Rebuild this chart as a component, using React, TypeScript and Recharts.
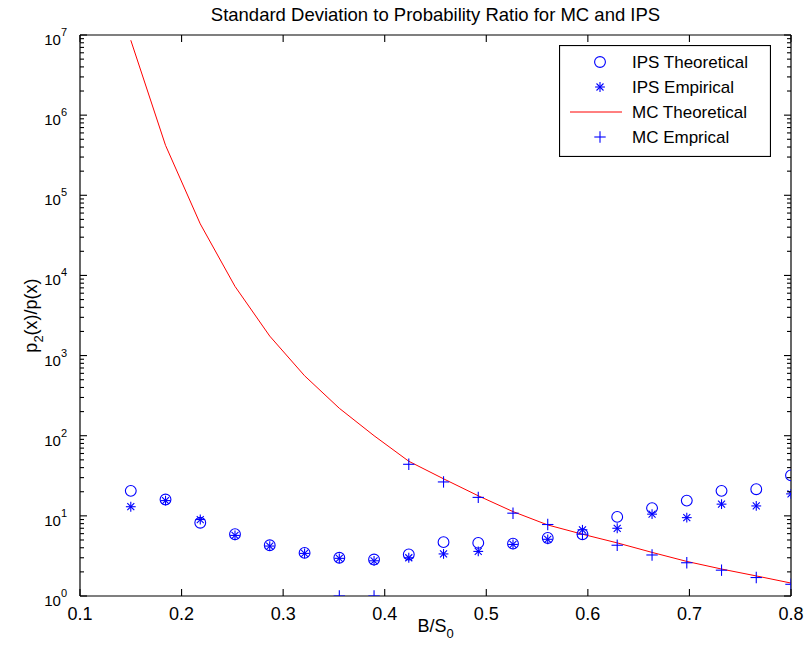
import React from 'react';
import { ComposedChart, Line, Scatter, XAxis, YAxis, Legend } from 'recharts';

const FONT = '"Liberation Sans", Arial, Helvetica, sans-serif';
const BLUE = '#0000ff';
const RED = '#ff0000';

// B/S0 values where the estimates were taken
const ratios = [0.15, 0.1842, 0.2184, 0.2526, 0.2868, 0.3211, 0.3553, 0.3895, 0.4237, 0.4579,
  0.4921, 0.5263, 0.5605, 0.5947, 0.6289, 0.6632, 0.6974, 0.7316, 0.7658, 0.8];

const ipsTheoretical = [20.5, 16, 8.2, 5.9, 4.3, 3.45, 3.0, 2.85, 3.3, 4.7,
  4.6, 4.5, 5.3, 5.9, 9.7, 12.5, 15.5, 20.5, 21.5, 32];
const ipsEmpirical = [13, 15.5, 9, 5.7, 4.2, 3.4, 2.95, 2.75, 3.0, 3.35,
  3.6, 4.4, 5.1, 6.7, 7, 10.5, 9.5, 14, 13.3, 18.8];
const mcTheoretical = [8.6e6, 4.2e5, 4.4e4, 7300, 1750, 560, 220, 100, 48, 29,
  17.8, 11.3, 7.7, 5.9, 4.6, 3.5, 2.7, 2.17, 1.78, 1.45];
// no MC estimate for the first six ratios
const mcEmpirical = [null, null, null, null, null, null, 1, 1, 44, 26.5,
  17, 10.8, 7.8, 5.9, 4.3, 3.25, 2.6, 2.1, 1.7, 1.4];

const xTicks = [0.1, 0.2, 0.3, 0.4, 0.5, 0.6, 0.7, 0.8];
const decades = [1, 10, 100, 1e3, 1e4, 1e5, 1e6, 1e7];
const minorSteps = [2, 3, 4, 5, 6, 7, 8, 9];
const yTicks = [
  ...decades,
  ...decades.slice(0, -1).flatMap((d) => minorSteps.map((m) => d * m)),
].sort((a, b) => a - b);

const legendItems = [
  { label: 'IPS Theoretical', kind: 'circle' },
  { label: 'IPS Empirical', kind: 'star' },
  { label: 'MC Theoretical', kind: 'line' },
  { label: 'MC Emprical', kind: 'plus' },
];

const toPoints = (values: (number | null)[]) =>
  ratios.map((x, i) => ({ x, y: values[i] })).filter((p) => p.y != null);

const isDecade = (v: number) => decades.includes(v);

const Marker = ({ kind, cx, cy }: { kind: string; cx: number; cy: number }) => {
  if (kind === 'circle') {
    return <circle cx={cx} cy={cy} r={5.4} fill="none" stroke={BLUE} strokeWidth={1.1} />;
  }
  if (kind === 'star') {
    const s = 4.9;
    const d = 3.5;
    return (
      <g stroke={BLUE} strokeWidth={1.1}>
        <line x1={cx - s} x2={cx + s} y1={cy} y2={cy} />
        <line x1={cx} x2={cx} y1={cy - s} y2={cy + s} />
        <line x1={cx - d} x2={cx + d} y1={cy - d} y2={cy + d} />
        <line x1={cx - d} x2={cx + d} y1={cy + d} y2={cy - d} />
      </g>
    );
  }
  if (kind === 'plus') {
    const s = 5.7;
    return (
      <g stroke={BLUE} strokeWidth={1.1}>
        <line x1={cx - s} x2={cx + s} y1={cy} y2={cy} />
        <line x1={cx} x2={cx} y1={cy - s} y2={cy + s} />
      </g>
    );
  }
  return <line x1={cx - 30} x2={cx + 22} y1={cy} y2={cy} stroke={RED} strokeWidth={1} />;
};

const shapeOf = (kind: string) => (props: any) => <Marker kind={kind} cx={props.cx} cy={props.cy} />;

// MATLAB style: tick marks point into the plot box
const tickStyle = { stroke: '#000', strokeWidth: 1.1 };
const MAJ = 7;
const MIN = 4;

const BottomTick = ({ x, y, payload }: any) => (
  <g>
    <line x1={x} x2={x} y1={y} y2={y - MAJ} {...tickStyle} />
    <text x={x} y={y + 24} textAnchor="middle" fontSize={18} fontFamily={FONT} fill="#000">
      {Number(payload.value).toFixed(1)}
    </text>
  </g>
);

const TopTick = ({ x, y }: any) => <line x1={x} x2={x} y1={y} y2={y + MAJ} {...tickStyle} />;

const LeftTick = ({ x, y, payload }: any) => {
  const v = payload.value;
  const major = isDecade(v);
  return (
    <g>
      <line x1={x} x2={x + (major ? MAJ : MIN)} y1={y} y2={y} {...tickStyle} />
      {major && (
        <text x={x - 13} y={y + 10} textAnchor="end" fontSize={15} fontFamily={FONT} fill="#000">
          10
          <tspan dy={-9} fontSize={11}>{Math.round(Math.log10(v))}</tspan>
        </text>
      )}
    </g>
  );
};

const RightTick = ({ x, y, payload }: any) => (
  <line x1={x} x2={x - (isDecade(payload.value) ? MAJ : MIN)} y1={y} y2={y} {...tickStyle} />
);

const LegendBox = () => (
  <svg width={212} height={112} style={{ display: 'block' }}>
    <rect x={0.5} y={0.5} width={211} height={111} fill="#fff" stroke="#000" strokeWidth={1.2} />
    {legendItems.map((item, i) => {
      const cy = 17 + i * 25;
      return (
        <g key={item.label}>
          <Marker kind={item.kind} cx={41} cy={cy} />
          <text x={73} y={cy + 6} fontSize={17} fontFamily={FONT} fill="#000">
            {item.label}
          </text>
        </g>
      );
    })}
  </svg>
);

const axisLine = { stroke: '#000', strokeWidth: 1.2 };

const App = () => {
  const W = 805;
  const H = 648;
  return (
    <div style={{ position: 'absolute', left: 0, top: 0, width: W, height: H, background: '#fff' }}>
      <ComposedChart width={W} height={H} margin={{ top: 0, right: 0, bottom: 0, left: 0 }}>
        <XAxis
          xAxisId="bottom"
          type="number"
          dataKey="x"
          domain={[0.1, 0.8]}
          ticks={xTicks}
          interval={0}
          height={52}
          tickSize={0}
          tickMargin={0}
          tickLine={false}
          tick={<BottomTick />}
          axisLine={axisLine}
          allowDataOverflow
        />
        <XAxis
          xAxisId="top"
          orientation="top"
          type="number"
          dataKey="x"
          domain={[0.1, 0.8]}
          ticks={xTicks}
          interval={0}
          height={35}
          tickSize={0}
          tickMargin={0}
          tickLine={false}
          tick={TopTick}
          axisLine={axisLine}
          allowDataOverflow
        />
        <YAxis
          yAxisId="left"
          type="number"
          dataKey="y"
          scale="log"
          domain={[1, 1e7]}
          ticks={yTicks}
          interval={0}
          width={80}
          tickSize={0}
          tickMargin={0}
          tickLine={false}
          tick={<LeftTick />}
          axisLine={axisLine}
          allowDataOverflow
        />
        <YAxis
          yAxisId="right"
          orientation="right"
          type="number"
          dataKey="y"
          scale="log"
          domain={[1, 1e7]}
          ticks={yTicks}
          interval={0}
          width={14}
          tickSize={0}
          tickMargin={0}
          tickLine={false}
          tick={RightTick}
          axisLine={axisLine}
          allowDataOverflow
        />
        <Line
          xAxisId="bottom"
          yAxisId="left"
          data={toPoints(mcTheoretical)}
          dataKey="y"
          type="linear"
          stroke={RED}
          strokeWidth={1}
          dot={false}
          activeDot={false}
          isAnimationActive={false}
        />
        <Scatter xAxisId="bottom" yAxisId="left" data={toPoints(ipsTheoretical)} shape={shapeOf('circle')} isAnimationActive={false} />
        <Scatter xAxisId="bottom" yAxisId="left" data={toPoints(ipsEmpirical)} shape={shapeOf('star')} isAnimationActive={false} />
        <Scatter xAxisId="bottom" yAxisId="left" data={toPoints(mcEmpirical)} shape={shapeOf('plus')} isAnimationActive={false} />
        <Legend
          layout="vertical"
          align="center"
          verticalAlign="middle"
          wrapperStyle={{ left: 559, top: 45, width: 212, height: 112 }}
          content={() => <LegendBox />}
        />
      </ComposedChart>
      <svg width={W} height={H} style={{ position: 'absolute', left: 0, top: 0, pointerEvents: 'none' }}>
        <text x={435.5} y={21} textAnchor="middle" fontSize={18.5} fontFamily={FONT} fill="#000">
          Standard Deviation to Probability Ratio for MC and IPS
        </text>
        <text x={435.5} y={632} textAnchor="middle" fontSize={18} fontFamily={FONT} fill="#000">
          B/S<tspan dy={6} fontSize={13}>0</tspan>
        </text>
        <text
          transform="translate(37,315.5) rotate(-90)"
          textAnchor="middle"
          fontSize={18}
          fontFamily={FONT}
          fill="#000"
        >
          p<tspan dy={6} fontSize={13}>2</tspan>
          <tspan dy={-6}>(x)/p(x)</tspan>
        </text>
      </svg>
    </div>
  );
};

export default App;
